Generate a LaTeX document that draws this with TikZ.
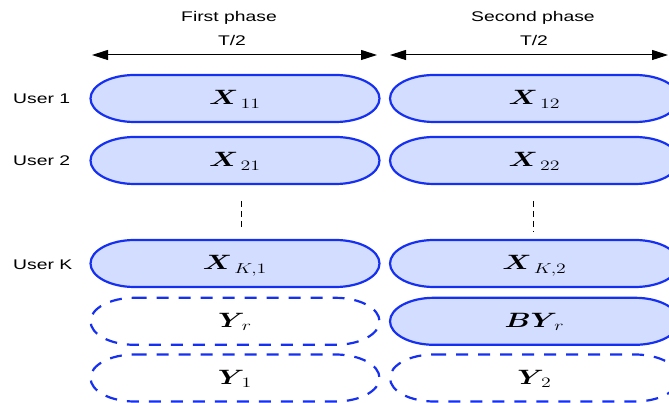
\documentclass[tikz,border=0pt]{standalone}
\usepackage{amsmath,bm}
\usepackage[no-math]{fontspec}
\newfontfamily\helv{Liberation Sans}
\usetikzlibrary{arrows.meta}
\definecolor{capfill}{RGB}{210,221,255}
\definecolor{capline}{RGB}{22,48,242}
\newcommand{\sx}[1]{\scalebox{1.38}[1]{#1}}
\newcommand{\capsule}[5]{%
  \path[#4] ({#2-100.5},{#3+23.5}) -- ({#2+100.5},{#3+23.5})
    arc[start angle=90,end angle=-90,x radius=44,y radius=23.5]
    -- ({#2-100.5},{#3-23.5})
    arc[start angle=270,end angle=90,x radius=44,y radius=23.5] -- cycle;
  \node[mathlbl] (#1) at ({#2},{#3-6.5}) {\sx{$#5$}};
}
\tikzset{
  solidcap/.style={draw=capline,fill=capfill,line width=2.2pt},
  dashcap/.style={draw=capline,line width=2.2pt,dash pattern=on 12pt off 10pt},
  mathlbl/.style={anchor=base,inner sep=0pt,font=\fontsize{20.5}{24}\selectfont},
  lbl/.style={inner sep=0pt,font=\helv\fontsize{14}{16}\selectfont},
  span/.style={line width=1pt,{Triangle[length=16pt,width=10pt]}-{Triangle[length=16pt,width=10pt]}},
  dots/.style={line width=1pt,dash pattern=on 5.7pt off 4.3pt}
}
\begin{document}
\begin{tikzpicture}[x=1pt,y=1pt]
\useasboundingbox (0,0) rectangle (669,403);
\clip (0,0) rectangle (669,403);
% headers
\node[lbl,anchor=base] (p1) at (229,381) {\sx{First phase}};
\node[lbl,anchor=base] (t1) at (232,357) {\sx{T/2}};
\node[lbl,anchor=base] (p2) at (533,381) {\sx{Second phase}};
\node[lbl,anchor=base] (t2) at (534,357) {\sx{T/2}};
\coordinate (a1) at (92,348);
\coordinate (b1) at (377,348);
\coordinate (a2) at (390,348);
\coordinate (b2) at (668,348);
\draw[span] (a1) -- (b1);
\draw[span] (a2) -- (b2);
% user labels
\node[lbl,anchor=base west] (u1) at (13,299) {\sx{User 1}};
\node[lbl,anchor=base west] (u2) at (13,237) {\sx{User 2}};
\node[lbl,anchor=base west] (uk) at (13,133.5) {\sx{User K}};
% capsules
\capsule{x11}{235}{304.5}{solidcap}{\bm{X}_{\mkern4mu 11}}
\capsule{x12}{534.5}{304.5}{solidcap}{\bm{X}_{\mkern4mu 12}}
\capsule{x21}{235}{242.5}{solidcap}{\bm{X}_{\mkern4mu 21}}
\capsule{x22}{534.5}{242.5}{solidcap}{\bm{X}_{\mkern4mu 22}}
\capsule{xk1}{235}{139.5}{solidcap}{\bm{X}_{\mkern4mu K,1}}
\capsule{xk2}{534.5}{139.5}{solidcap}{\bm{X}_{\mkern4mu K,2}}
\capsule{yr}{235}{81.7}{dashcap}{\bm{Y}_{\mkern4mu r}}
\capsule{byr}{534.5}{81.7}{solidcap}{\bm{BY}_{\mkern4mu r}}
\capsule{y1}{235}{25}{dashcap}{\bm{Y}_{\mkern4mu 1}}
\capsule{y2}{534.5}{25}{dashcap}{\bm{Y}_{\mkern4mu 2}}
% vertical dots
\coordinate (d1a) at (241,202);
\coordinate (d1b) at (241,176);
\coordinate (d2a) at (533,202);
\coordinate (d2b) at (533,171);
\draw[dots] (d1a) -- (d1b);
\draw[dots] (d2a) -- (d2b);
\end{tikzpicture}
\end{document}
